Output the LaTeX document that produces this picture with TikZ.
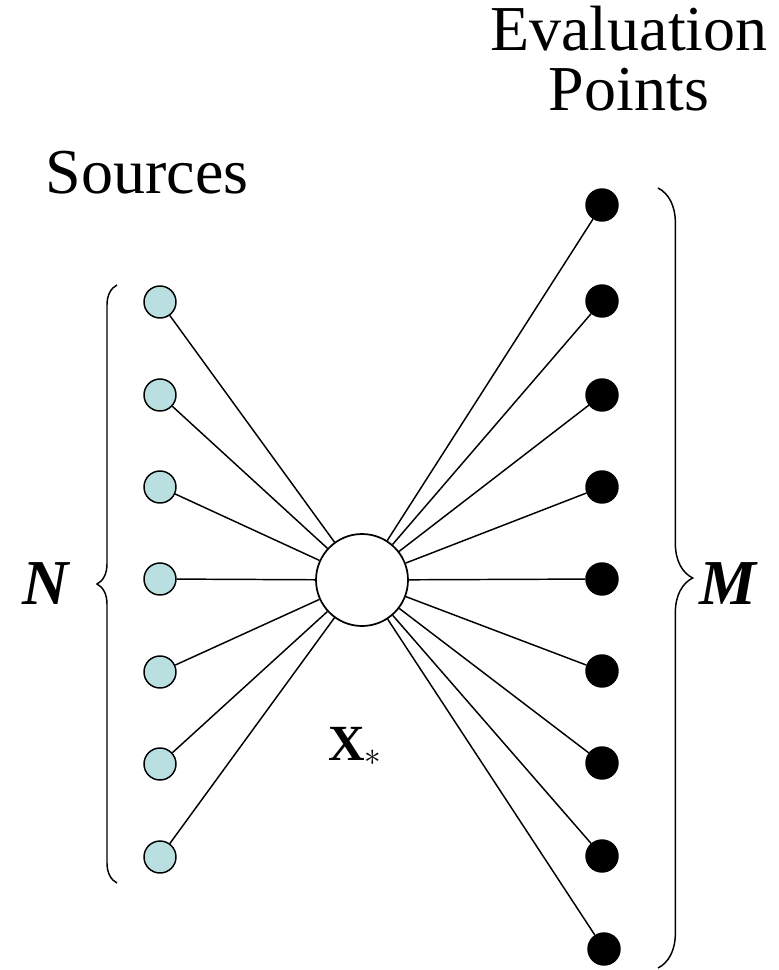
\documentclass[tikz,border=0pt]{standalone}
\usepackage{fontspec}
\setmainfont{Liberation Serif}
\usetikzlibrary{decorations.pathreplacing}
\definecolor{cblue}{HTML}{B9DFE1}
\tikzset{
  every picture/.style={line width=1.1pt},
  src/.style={circle, draw, fill=cblue, line width=1.1pt, minimum size=24pt, inner sep=0pt},
  evalpt/.style={circle, draw, fill=black, minimum size=24pt, inner sep=0pt},
  hub/.style={circle, draw, fill=white, line width=1.3pt, minimum size=69pt, inner sep=0pt},
  label/.style={font=\fontsize{48}{45}\selectfont, align=center, inner sep=0pt},
  brace/.style={decorate, decoration={brace, amplitude=#1}, line width=1.1pt},
}

\begin{document}
\begin{tikzpicture}[x=0.75pt, y=-0.75pt]
  \useasboundingbox (0,0) rectangle (778,970);
  % titles
  \node[label] (srctitle) at (147,173) {Sources};
  \node[label] (evaltitle) at (629,59) {Evaluation\\Points};
  % sources
  \node[src] (src1) at (160,302) {};
  \node[src] (src2) at (160,395) {};
  \node[src] (src3) at (160,487) {};
  \node[src] (src4) at (160,579) {};
  \node[src] (src5) at (160,672) {};
  \node[src] (src6) at (160,764) {};
  \node[src] (src7) at (160,857) {};
  % evaluation points
  \node[evalpt] (eval1) at (602,205) {};
  \node[evalpt] (eval2) at (602,301) {};
  \node[evalpt] (eval3) at (602,395) {};
  \node[evalpt] (eval4) at (602,487) {};
  \node[evalpt] (eval5) at (602,579) {};
  \node[evalpt] (eval6) at (602,671) {};
  \node[evalpt] (eval7) at (602,763) {};
  \node[evalpt] (eval8) at (602,856) {};
  \node[evalpt] (eval9) at (604,949) {};
  % expansion centre
  \node[hub] (xstar) at (362,580) {};
  \node[font=\fontsize{38}{40}\selectfont] (xlabel) at (355,746) {\textbf{X}$_*$};
  % connectors
  \draw (src1) -- (xstar);
  \draw (src2) -- (xstar);
  \draw (src3) -- (xstar);
  \draw (src4) -- (xstar);
  \draw (src5) -- (xstar);
  \draw (src6) -- (xstar);
  \draw (src7) -- (xstar);
  \draw (eval1) -- (xstar);
  \draw (eval2) -- (xstar);
  \draw (eval3) -- (xstar);
  \draw (eval4) -- (xstar);
  \draw (eval5) -- (xstar);
  \draw (eval6) -- (xstar);
  \draw (eval7) -- (xstar);
  \draw (eval8) -- (xstar);
  \draw (eval9) -- (xstar);
  % braces
  \draw[brace=15pt] (117,883) -- (117,285);
  \draw[brace=26pt] (658,188) -- (658,968);
  \node[label] (nlabel) at (47,584) {\textbf{\textit{N}}};
  \node[label] (mlabel) at (729,584) {\textbf{\textit{M}}};
\end{tikzpicture}
\end{document}
